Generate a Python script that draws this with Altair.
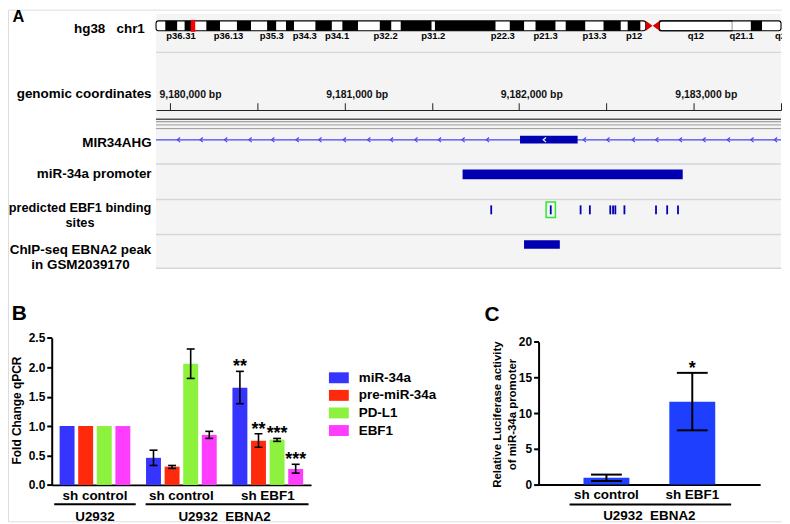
import altair as alt
import pandas as pd

FONT = "Liberation Sans"
W, H = 779, 515

# ======================= Panel A data =======================
# chr1 cytobands (hg38, Mb) shown in the ideogram
BAND_NAME = ["p36.33", "p36.32", "p36.31", "p36.23", "p36.22", "p36.21", "p36.13", "p36.12", "p36.11",
             "p35.3", "p35.2", "p35.1", "p34.3", "p34.2", "p34.1", "p33", "p32.3", "p32.2", "p32.1",
             "p31.3", "p31.2", "p31.1", "p22.3", "p22.2", "p22.1", "p21.3", "p21.2", "p21.1",
             "p13.3", "p13.2", "p13.1", "p12", "p11.2", "p11.1", "q11", "q12", "q21.1", "q21.2", "q21.3", "q22"]
BAND_START = [0.0, 2.3, 5.3, 7.1, 9.1, 12.5, 15.9, 20.1, 23.6,
              27.6, 29.9, 32.3, 34.3, 39.6, 43.7, 46.3, 50.2, 55.6, 58.5,
              60.8, 68.5, 69.3, 84.4, 87.9, 91.5, 94.3, 99.3, 101.8,
              106.7, 111.2, 115.5, 117.2, 120.4, 121.7, 123.4, 125.1, 143.2, 147.8, 150.6, 155.1]
BAND_END = BAND_START[1:] + [156.6]
BAND_STAIN = ["gneg", "gpos25", "gneg", "gpos25", "gneg", "gpos50", "gneg", "gpos25", "gneg",
              "gpos25", "gneg", "gpos25", "gneg", "gpos25", "gneg", "gpos75", "gneg", "gpos50", "gneg",
              "gpos50", "gneg", "gpos100", "gneg", "gpos75", "gneg", "gpos75", "gneg", "gpos100",
              "gneg", "gpos50", "gneg", "gpos50", "gneg", "acen", "acen", "gvar", "gneg", "gpos50", "gneg", "gpos50"]
LABELED_BANDS = ["p36.31", "p36.13", "p35.3", "p34.3", "p34.1", "p32.2", "p31.2",
                 "p22.3", "p21.3", "p13.3", "p12", "q12", "q21.1", "q22"]
VIEW_MB = [0.0, 155.3]
LOCUS_MB = 9.18

COORD_VIEW = [9179920, 9183500]
COORD_TICKS = [9180000, 9180500, 9181000, 9181500, 9182000, 9182500, 9183000, 9183500]

GENE_EXON = [9182005, 9182335]
GENE_STRAND_MARKS = [9180050, 9180180, 9180320, 9180460, 9180590, 9180730, 9180860, 9181000,
                     9181140, 9181270, 9181410, 9181545, 9181680, 9181820,
                     9182375, 9182510, 9182655, 9182790, 9182925, 9183060, 9183200, 9183335, 9183470]
GENE_EXON_MARK = [9182146]
PROMOTER = [9181676, 9182937]
EBF1_SITES = [9181840, 9182181, 9182352, 9182405, 9182522, 9182538, 9182551, 9182603,
              9182784, 9182848, 9182910]
EBF1_HIGHLIGHT = [9182181]
CHIP_PEAK = [9182028, 9182233]

TRACK_LABELS = ["hg38\u00a0\u00a0\u00a0chr1", "genomic coordinates", "MIR34AHG", "miR-34a promoter",
                "predicted EBF1 binding\nsites", "ChIP-seq EBNA2 peak\nin GSM2039170"]

# ======================= Panel B data =======================
B_GROUPS = ["U2932|sh control", "U2932 EBNA2|sh control", "U2932 EBNA2|sh EBF1"]
B_SERIES = ["miR-34a", "pre-miR-34a", "PD-L1", "EBF1"]
B_COLORS = ["#3535ff", "#ff2a0c", "#8df23e", "#ff3dff"]
B_MEAN = [[1.0, 1.0, 1.0, 1.0], [0.46, 0.31, 2.06, 0.85], [1.65, 0.75, 0.77, 0.27]]
B_LOW = [[None, None, None, None], [0.33, 0.28, 1.81, 0.79], [1.38, 0.64, 0.74, 0.20]]
B_HIGH = [[None, None, None, None], [0.59, 0.33, 2.31, 0.91], [1.93, 0.87, 0.79, 0.35]]
B_SIG = [["", "", "", ""], ["", "", "", ""], ["**", "**", "***", "***"]]
B_SPANS = [("U2932", 0, 0), ("U2932\u00a0\u00a0EBNA2", 1, 2)]
B_YTICKS = [0.0, 0.5, 1.0, 1.5, 2.0, 2.5]

# ======================= Panel C data =======================
C_COND = ["sh control", "sh EBF1"]
C_MEAN = [0.95, 11.6]
C_LOW = [0.5, 7.6]
C_HIGH = [1.4, 15.65]
C_SIG = ["", "*"]
C_YTICKS = [0, 5, 10, 15, 20]
C_SPAN = "U2932\u00a0\u00a0EBNA2"

ONE = pd.DataFrame({"k": [0]})


def label(text, x, y, size=13.5, align="right", weight="bold", lh=None):
    kw = dict(text=text, font=FONT, fontSize=size, fontWeight=weight, align=align,
              baseline="alphabetic", color="black")
    if "\n" in text:
        kw.update(lineBreak="\n", lineHeight=lh)
    return alt.Chart(ONE).mark_text(**kw).encode(x=alt.value(x), y=alt.value(y))


# ======================= Panel A: tracks =======================
bp_scale = alt.Scale(domain=COORD_VIEW, range=[149, 778], zero=False, nice=False)
bp_axis = alt.Axis(orient="top", offset=-101, values=COORD_TICKS, title=None, grid=False, zindex=2,
                   labelExpr="datum.value % 1000 == 0 ? format(datum.value, ',') + ' bp' : ''",
                   tickSize=7.3, tickWidth=1, tickColor="#222", domainColor="#222", domainWidth=1,
                   labelFont=FONT, labelFontSize=10.5, labelFontWeight="bold", labelColor="#111",
                   labelAlign="left", labelBaseline="alphabetic", labelPadding=5,
                   labelOffset={"condition": {"test": "datum.index < 0.01", "value": -11}, "value": -19},
                   labelFlush=False, labelOverlap=False)


def bpx(field):
    return alt.X(f"{field}:Q", scale=bp_scale, axis=bp_axis)


span_df = pd.DataFrame({"start": [COORD_VIEW[0]], "end": [COORD_VIEW[1]]})

track_layers = [
    alt.Chart(span_df).mark_rect(color="#f4f4f5").encode(
        x=bpx("start"), x2="end:Q", y=alt.value(4), y2=alt.value(261)),
]
for yy in [43, 155.3, 191, 226.3, 260.3]:
    track_layers.append(alt.Chart(span_df).mark_rule(color="#d5d5dc", strokeWidth=1.5).encode(
        x=bpx("start"), x2="end:Q", y=alt.value(yy)))
for yy, col, sw in [(110.3, "#555555", 1.6), (112.8, "#8a8a8a", 1.0), (116.0, "#9a9a9a", 1.0), (119.7, "#9a9a9a", 1.0)]:
    track_layers.append(alt.Chart(span_df).mark_rule(color=col, strokeWidth=sw).encode(
        x=bpx("start"), x2="end:Q", y=alt.value(yy)))

# gene MIR34AHG
track_layers.append(alt.Chart(span_df).mark_rule(color="#4646f2", strokeWidth=1.2).encode(
    x=bpx("start"), x2="end:Q", y=alt.value(131)))
track_layers.append(alt.Chart(pd.DataFrame({"pos": GENE_STRAND_MARKS})).mark_point(
    shape="M0.6,-1L-0.6,0L0.6,1", size=22, filled=False, opacity=1, color="#4646f2", strokeWidth=1.2).encode(
    x=bpx("pos"), y=alt.value(131)))
track_layers.append(alt.Chart(pd.DataFrame({"start": [GENE_EXON[0]], "end": [GENE_EXON[1]]})).mark_rect(
    color="#0000b2").encode(x=bpx("start"), x2="end:Q", y=alt.value(127), y2=alt.value(134.7)))
track_layers.append(alt.Chart(pd.DataFrame({"pos": GENE_EXON_MARK})).mark_point(
    shape="M0.6,-1L-0.6,0L0.6,1", size=22, filled=False, opacity=1, color="white", strokeWidth=1.2).encode(
    x=bpx("pos"), y=alt.value(131)))
# promoter
track_layers.append(alt.Chart(pd.DataFrame({"start": [PROMOTER[0]], "end": [PROMOTER[1]]})).mark_rect(
    color="#0000b2").encode(x=bpx("start"), x2="end:Q", y=alt.value(161), y2=alt.value(170.7)))
# EBF1 sites
track_layers.append(alt.Chart(pd.DataFrame({"pos": EBF1_SITES})).mark_tick(
    color="#0000b2", thickness=1.8, size=9, opacity=1).encode(x=bpx("pos"), y=alt.value(201.5)))
track_layers.append(alt.Chart(pd.DataFrame({"pos": EBF1_HIGHLIGHT})).mark_point(
    shape="M-0.6,-1H0.6V1H-0.6Z", size=243, filled=False, opacity=1, color="#2ee82e", strokeWidth=1.5).encode(
    x=bpx("pos"), y=alt.value(201.5)))
# ChIP-seq peak
track_layers.append(alt.Chart(pd.DataFrame({"start": [CHIP_PEAK[0]], "end": [CHIP_PEAK[1]]})).mark_rect(
    color="#0000b2").encode(x=bpx("start"), x2="end:Q", y=alt.value(232), y2=alt.value(240.7)))

tracks = alt.layer(*track_layers)

# ======================= Panel A: ideogram =======================
bands = pd.DataFrame({"name": BAND_NAME, "start": BAND_START, "end": BAND_END, "stain": BAND_STAIN})
bands["mid"] = (bands["start"] + bands["end"]) / 2
acen = bands[bands["stain"] == "acen"]
arms = pd.DataFrame({"start": [VIEW_MB[0], acen["end"].max()], "end": [acen["start"].min(), VIEW_MB[1]]})
bands_in_view = bands[bands["end"] <= VIEW_MB[1]]
labels_df = bands[bands["name"].isin(LABELED_BANDS)]

mb_scale = alt.Scale(domain=VIEW_MB, range=[149, 778], zero=False, nice=False)
mbx = lambda f: alt.X(f"{f}:Q", scale=mb_scale, axis=None)

ideo = alt.layer(
    alt.Chart(bands_in_view).mark_rect(strokeWidth=1).encode(
        x=mbx("start"), x2="end:Q", y=alt.value(11.3), y2=alt.value(21.3),
        color=alt.Color("stain:N", legend=None,
                        scale=alt.Scale(domain=["gneg", "gpos25", "gpos50", "gpos75", "gpos100", "gvar", "acen"],
                                        range=["white", "black", "black", "black", "black", "white", "transparent"])),
        stroke=alt.condition("datum.stain == 'gvar'", alt.value("black"), alt.value("transparent"))),
    alt.Chart(arms).mark_rect(fill="transparent", stroke="black", strokeWidth=1.1, cornerRadius=2.5).encode(
        x=mbx("start"), x2="end:Q", y=alt.value(11.3), y2=alt.value(21.3)),
    alt.Chart(acen.iloc[[0]]).mark_point(shape="M-0.68,-1L0.68,0L-0.68,1Z", size=100, filled=True,
                                         opacity=1, color="#d40000").encode(x=mbx("mid"), y=alt.value(16.3)),
    alt.Chart(acen.iloc[[1]]).mark_point(shape="M0.68,-1L-0.68,0L0.68,1Z", size=100, filled=True,
                                         opacity=1, color="#d40000").encode(x=mbx("mid"), y=alt.value(16.3)),
    alt.Chart(pd.DataFrame({"pos": [LOCUS_MB]})).mark_tick(color="#ff0000", thickness=4.5, size=12,
                                                          opacity=1).encode(x=mbx("pos"), y=alt.value(16.3)),
    alt.Chart(labels_df).mark_text(font=FONT, fontSize=9.5, fontWeight="bold", color="black",
                                   baseline="alphabetic").encode(x=mbx("mid"), y=alt.value(30), text="name:N"),
)

# ======================= Panel B =======================
rows = []
for gi, g in enumerate(B_GROUPS):
    for si, s in enumerate(B_SERIES):
        rows.append(dict(group=g, series=s, mean=B_MEAN[gi][si], lo=B_LOW[gi][si],
                         hi=B_HIGH[gi][si], sig=B_SIG[gi][si]))
dfB = pd.DataFrame(rows)
dfB_err = dfB.dropna(subset=["lo"])
dfB_sig = dfB[dfB["sig"] != ""]

B_PI = 0.057
B_PO = 0.029
B_RANGE = [44, 305]
bx_scale = alt.Scale(domain=B_GROUPS, range=B_RANGE, paddingInner=B_PI, paddingOuter=B_PO)
bxo_scale = alt.Scale(domain=B_SERIES, paddingInner=0.197, paddingOuter=0.29)
by_scale = alt.Scale(domain=[0, 2.5], range=[478.3, 330.3], zero=True, nice=False)
bx_axis = alt.Axis(orient="bottom", offset=478.3 - H, ticks=False, tickSize=0, domainWidth=2,
                   domainColor="black", labelExpr="split(datum.value, '|')[1]", labelFont=FONT,
                   labelFontSize=13.5, labelFontWeight="bold", labelColor="black", labelPadding=14.5,
                   labelBaseline="alphabetic", labelAngle=0, title=None, grid=False)
by_axis = alt.Axis(orient="left", offset=-44, values=B_YTICKS, format=".1f", tickSize=5, tickWidth=2,
                   tickColor="black", domainWidth=2, domainColor="black", labelFont=FONT, labelFontSize=12,
                   labelFontWeight="bold", labelColor="black", labelPadding=2, grid=False,
                   labelFlush=False, labelOverlap=False,
                   title="Fold Change qPCR", titleFont=FONT, titleFontSize=12, titleFontWeight="bold",
                   titleColor="black", titleX=-35, titleY=403, titleAngle=270, titleBaseline="middle",
                   titleAlign="center")


def bX(f="group", bp=None):
    if bp is None:
        return alt.X(f"{f}:N", scale=bx_scale, axis=bx_axis)
    return alt.X(f"{f}:N", scale=bx_scale, axis=bx_axis, bandPosition=bp)


bXO = alt.XOffset("series:N", scale=bxo_scale)

B_STEP = (B_RANGE[1] - B_RANGE[0]) / (len(B_GROUPS) - B_PI + 2 * B_PO)
B_BW = B_STEP * (1 - B_PI)

b_layers = [
    alt.Chart(dfB).mark_bar().encode(
        x=bX(), xOffset=bXO, y=alt.Y("mean:Q", scale=by_scale, axis=by_axis),
        color=alt.Color("series:N", scale=alt.Scale(domain=B_SERIES, range=B_COLORS),
                        legend=alt.Legend(orient="none", legendX=323, legendY=360.5, title=None,
                                          symbolType="M-1,-0.55H1V0.55H-1Z", symbolSize=400,
                                          symbolStrokeWidth=0, labelFont=FONT, labelFontSize=13.5,
                                          labelFontWeight="bold", labelColor="black", labelOffset=10,
                                          rowPadding=0.7, padding=0, labelLimit=300))),
    alt.Chart(dfB_err).mark_rule(color="black", strokeWidth=1.6).encode(
        x=bX(), xOffset=bXO, y=alt.Y("lo:Q", scale=by_scale, axis=by_axis), y2="hi:Q"),
    alt.Chart(dfB_err).mark_tick(color="black", thickness=1.6, size=8, opacity=1).encode(
        x=bX(), xOffset=bXO, y=alt.Y("lo:Q", scale=by_scale, axis=by_axis)),
    alt.Chart(dfB_err).mark_tick(color="black", thickness=1.6, size=8, opacity=1).encode(
        x=bX(), xOffset=bXO, y=alt.Y("hi:Q", scale=by_scale, axis=by_axis)),
    alt.Chart(dfB_sig).mark_text(font=FONT, fontSize=18, fontWeight="bold", color="black",
                                 baseline="alphabetic", dy=1).encode(
        x=bX(), xOffset=bXO, y=alt.Y("hi:Q", scale=by_scale, axis=by_axis), text="sig:N"),
]
for n, i, j in B_SPANS:
    sdf = pd.DataFrame([dict(name=n, start=B_GROUPS[i], end=B_GROUPS[j])])
    b_layers.append(alt.Chart(sdf).mark_rule(color="black", strokeWidth=2,
                                             xOffset=(0 if i == 0 else 5)).encode(
        x=bX("start", 0), x2=alt.X2("end:N", bandPosition=1), y=alt.value(497.7)))
    b_layers.append(alt.Chart(sdf).mark_text(font=FONT, fontSize=13.5, fontWeight="bold", color="black",
                                             baseline="alphabetic", align="center",
                                             dx=((j - i) * B_STEP + B_BW) / 2).encode(
        x=bX("start", 0), y=alt.value(514.3), text="name:N"))
panelB = alt.layer(*b_layers)

# ======================= Panel C =======================
dfC = pd.DataFrame({"cond": C_COND, "mean": C_MEAN, "lo": C_LOW, "hi": C_HIGH, "sig": C_SIG})
C_PI, C_PO = 0.465, 0.523
C_RANGE = [534, 757]
cx_scale = alt.Scale(domain=C_COND, range=C_RANGE, paddingInner=C_PI, paddingOuter=C_PO)
cy_scale = alt.Scale(domain=[0, 20], range=[478, 334.3], zero=True, nice=False)
cx_axis = alt.Axis(orient="bottom", offset=478 - H, ticks=False, tickSize=0, domainWidth=2,
                   domainColor="black", labelFont=FONT, labelFontSize=13.5, labelFontWeight="bold",
                   labelColor="black", labelPadding=14.5, labelBaseline="alphabetic", labelAngle=0,
                   title=None, grid=False)
cy_axis = alt.Axis(orient="left", offset=-534, values=C_YTICKS, tickSize=5, tickWidth=2, tickColor="black",
                   domainWidth=2, domainColor="black", labelFont=FONT, labelFontSize=12,
                   labelFontWeight="bold", labelColor="black", labelPadding=2, grid=False,
                   labelFlush=False, labelOverlap=False,
                   title=["Relative Luciferase activity", "of miR-34a promoter"], titleFont=FONT,
                   titleFontSize=11.5, titleFontWeight="bold", titleColor="black", titleLineHeight=15,
                   titleX=-41, titleY=407, titleAngle=270, titleBaseline="middle", titleAlign="center")


def cX(f="cond", bp=None):
    if bp is None:
        return alt.X(f"{f}:N", scale=cx_scale, axis=cx_axis)
    return alt.X(f"{f}:N", scale=cx_scale, axis=cx_axis, bandPosition=bp)


C_STEP = (C_RANGE[1] - C_RANGE[0]) / (len(C_COND) - C_PI + 2 * C_PO)
C_BW = C_STEP * (1 - C_PI)
c_span = pd.DataFrame([dict(name=C_SPAN, start=C_COND[0], end=C_COND[-1])])

panelC = alt.layer(
    alt.Chart(dfC).mark_bar(color="#1f3fff").encode(
        x=cX(), y=alt.Y("mean:Q", scale=cy_scale, axis=cy_axis)),
    alt.Chart(dfC).mark_rule(color="black", strokeWidth=2).encode(
        x=cX(), y=alt.Y("lo:Q", scale=cy_scale, axis=cy_axis), y2="hi:Q"),
    alt.Chart(dfC).mark_tick(color="black", thickness=2, size=31, opacity=1).encode(
        x=cX(), y=alt.Y("lo:Q", scale=cy_scale, axis=cy_axis)),
    alt.Chart(dfC).mark_tick(color="black", thickness=2, size=31, opacity=1).encode(
        x=cX(), y=alt.Y("hi:Q", scale=cy_scale, axis=cy_axis)),
    alt.Chart(dfC).mark_text(font=FONT, fontSize=18, fontWeight="bold", color="black",
                             baseline="alphabetic", dy=1).encode(
        x=cX(), y=alt.Y("hi:Q", scale=cy_scale, axis=cy_axis), text="sig:N"),
    alt.Chart(c_span).mark_rule(color="black", strokeWidth=2, xOffset=-14, x2Offset=16).encode(
        x=cX("start", 0), x2=alt.X2("end:N", bandPosition=1), y=alt.value(498)),
    alt.Chart(c_span).mark_text(font=FONT, fontSize=13.5, fontWeight="bold", color="black",
                                baseline="alphabetic", align="center",
                                dx=((len(C_COND) - 1) * C_STEP + C_BW) / 2).encode(
        x=cX("start", 0), y=alt.value(514), text="name:N"),
)

# ======================= text labels =======================
texts = [
    label("A", 4.5, 12.3, size=16.5, align="left"),
    label("B", 3.8, 312.7, size=21, align="left"),
    label("C", 479.5, 313.7, size=21, align="left"),
    label(TRACK_LABELS[0], 137.7, 23.5),
    label(TRACK_LABELS[1], 144.5, 89),
    label(TRACK_LABELS[2], 144.5, 138),
    label(TRACK_LABELS[3], 144.5, 169.3),
    label(TRACK_LABELS[4], 72.5, 203.5, size=12.8, align="center", lh=15.3),
    label(TRACK_LABELS[5], 73, 246, align="center", lh=15),
]

chart = alt.layer(tracks, ideo, panelB, panelC, *texts).resolve_scale(
    x="independent", y="independent", color="independent"
).properties(width=W, height=H, padding=0, autosize="none").configure_view(stroke=None).configure(font=FONT)

chart.save("out.html", embed_options={"renderer": "svg", "actions": False})
